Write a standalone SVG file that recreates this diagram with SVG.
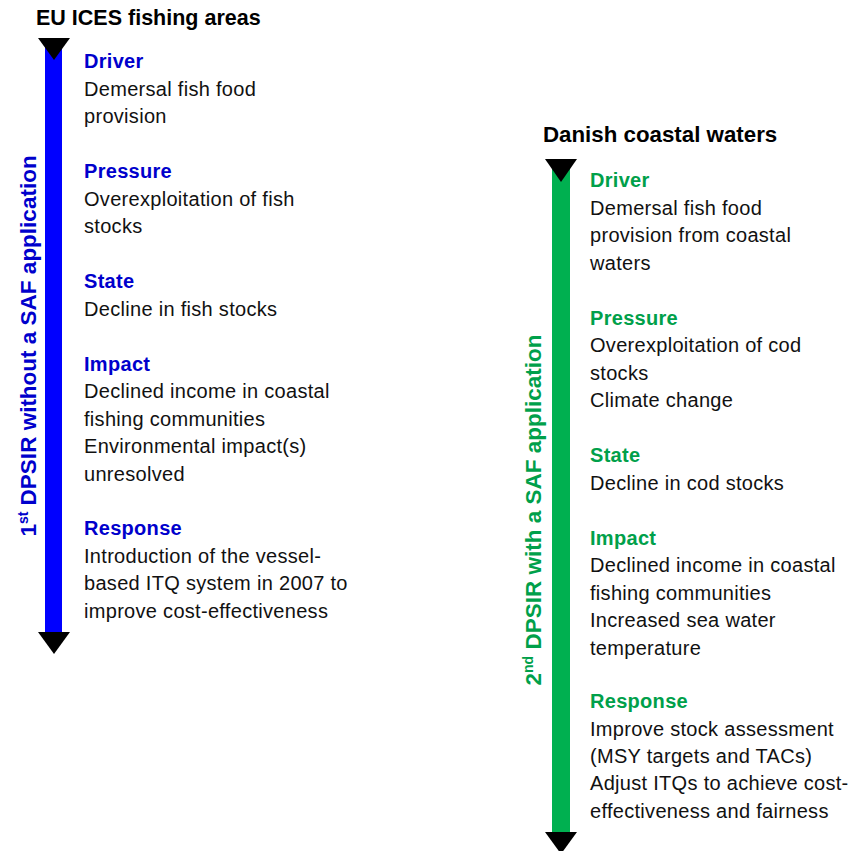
<svg xmlns="http://www.w3.org/2000/svg" width="861" height="851" viewBox="0 0 861 851">
<style>
text{font-family:"Liberation Sans",Arial,sans-serif;font-size:20px;letter-spacing:0.3px;fill:#111}
.t{font-weight:bold;font-size:21.5px;letter-spacing:0;fill:#000}
.hb{font-weight:bold;fill:#0000CC}
.hg{font-weight:bold;fill:#00A04A}
.vb{font-weight:bold;font-size:22.5px;letter-spacing:0;fill:#0000CC}
.vg{font-weight:bold;font-size:22.5px;letter-spacing:0;fill:#00A04A}
.head{fill:#000}
</style>
<rect width="861" height="851" fill="#fff"/>
<g id="connectors">
<g id="arrow-left">
<rect x="45" y="44" width="17" height="592" fill="#0000FF"/>
<polygon class="head" points="38,38 70,38 54,60"/>
<polygon class="head" points="38,632 70,632 54,654"/>
</g>
<g id="arrow-right">
<rect x="552" y="165" width="18" height="672" fill="#00B050"/>
<polygon class="head" points="545,159 577,159 561,182"/>
<polygon class="head" points="545,832 577,832 561,854"/>
</g>
</g>
<g id="left-title"><text class="t" x="36" y="25" font-size="21.2">EU ICES fishing areas</text></g>
<g id="left-label"><text class="vb" transform="translate(36,346) rotate(-90)" text-anchor="middle">1<tspan font-size="14" dy="-8">st</tspan><tspan dy="8"> DPSIR without a SAF application</tspan></text></g>
<g id="left-driver"><text class="hb" x="84" y="68">Driver</text><text x="84" y="95.5">Demersal fish food</text><text x="84" y="123">provision</text></g>
<g id="left-pressure"><text class="hb" x="84" y="178">Pressure</text><text x="84" y="205.5">Overexploitation of fish</text><text x="84" y="233">stocks</text></g>
<g id="left-state"><text class="hb" x="84" y="288">State</text><text x="84" y="315.5">Decline in fish stocks</text></g>
<g id="left-impact"><text class="hb" x="84" y="370.5">Impact</text><text x="84" y="398">Declined income in coastal</text><text x="84" y="425.5">fishing communities</text><text x="84" y="453">Environmental impact(s)</text><text x="84" y="480.5">unresolved</text></g>
<g id="left-response"><text class="hb" x="84" y="535">Response</text><text x="84" y="562.5">Introduction of the vessel-</text><text x="84" y="590">based ITQ system in 2007 to</text><text x="84" y="617.5">improve cost-effectiveness</text></g>
<g id="right-title"><text class="t" x="543" y="142" style="font-size:22.3px">Danish coastal waters</text></g>
<g id="right-label"><text class="vg" transform="translate(541,510) rotate(-90)" text-anchor="middle">2<tspan font-size="14" dy="-8">nd</tspan><tspan dy="8"> DPSIR with a SAF application</tspan></text></g>
<g id="right-driver"><text class="hg" x="590" y="187">Driver</text><text x="590" y="214.5">Demersal fish food</text><text x="590" y="242">provision from coastal</text><text x="590" y="269.5">waters</text></g>
<g id="right-pressure"><text class="hg" x="590" y="324.5">Pressure</text><text x="590" y="352">Overexploitation of cod</text><text x="590" y="379.5">stocks</text><text x="590" y="407">Climate change</text></g>
<g id="right-state"><text class="hg" x="590" y="462">State</text><text x="590" y="489.5">Decline in cod stocks</text></g>
<g id="right-impact"><text class="hg" x="590" y="544.5">Impact</text><text x="590" y="572">Declined income in coastal</text><text x="590" y="599.5">fishing communities</text><text x="590" y="627">Increased sea water</text><text x="590" y="654.5">temperature</text></g>
<g id="right-response"><text class="hg" x="590" y="708">Response</text><text x="590" y="735.5">Improve stock assessment</text><text x="590" y="763">(MSY targets and TACs)</text><text x="590" y="790">Adjust ITQs to achieve cost-</text><text x="590" y="817.5">effectiveness and fairness</text></g>
</svg>
